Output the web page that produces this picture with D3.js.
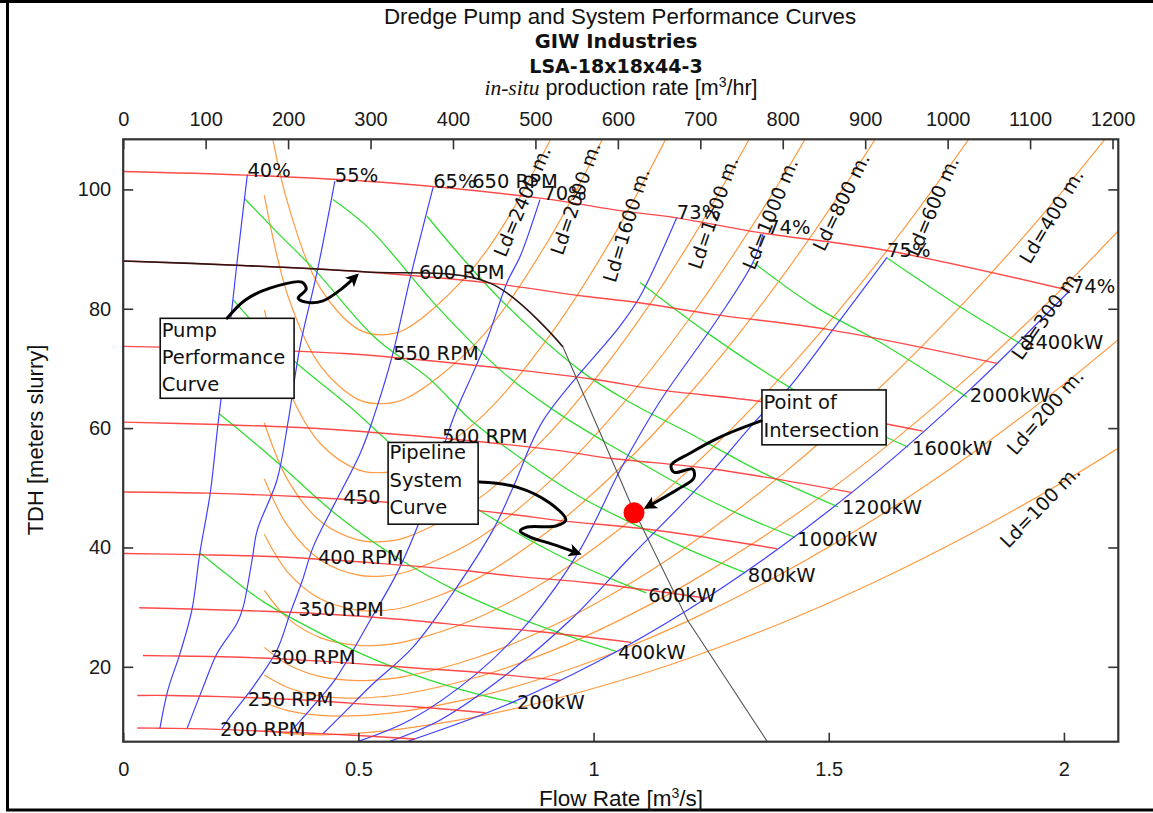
<!DOCTYPE html>
<html>
<head>
<meta charset="utf-8">
<script src="https://cdn.jsdelivr.net/npm/d3@7"></script>
<style>
  html, body { margin: 0; padding: 0; background: #fff; }
  svg { display: block; }
</style>
</head>
<body>
<svg id="chart" width="1153" height="813"></svg>
<script>
// ---------------- data ----------------
const flowTicks = [0, 0.5, 1, 1.5, 2];                       // m3/s
const headTicks = [20, 40, 60, 80, 100];                     // m slurry
const productionTicks = [0, 100, 200, 300, 400, 500, 600, 700, 800, 900, 1000, 1100, 1200]; // m3/hr

// Pump head curves, [flow m3/s, head m] per speed
const pumpSpeeds = ["650 RPM", "600 RPM", "550 RPM", "500 RPM", "450 RPM", "400 RPM", "350 RPM", "300 RPM", "250 RPM", "200 RPM"];
const speedLabels = ["650 RPM", "600 RPM", "550 RPM", "500 RPM", "450", "400 RPM", "350 RPM", "300 RPM", "250 RPM", "200 RPM"];
const pump650 = [[0,103.0],[0.26,102.4],[0.55,101.2],[0.89,98.5],[1.06,96.4],[1.18,95.2],[1.35,92.8],[1.62,89.8],[2.01,83.1]];
const pump600 = [[0,88.0],[0.24,87.3],[0.51,86.2],[0.78,84.3],[0.98,82.1],[1.09,81.1],[1.25,79.1],[1.50,76.5],[1.86,70.8]];
const pump550 = [[0,73.7],[0.22,73.3],[0.47,72.5],[0.75,70.5],[1.00,68.2],[1.14,66.4],[1.37,64.3],[1.70,59.5]];
const pump500 = [[0,61.0],[0.20,60.6],[0.42,59.9],[0.68,58.3],[0.91,56.4],[1.04,54.9],[1.25,53.2],[1.55,49.2]];
const pump450 = [[0,49.3],[0.18,49.1],[0.38,48.5],[0.62,47.2],[0.82,45.6],[0.93,44.5],[1.12,43.0],[1.39,39.8]];
const pump400 = [[0,39.0],[0.16,38.8],[0.34,38.4],[0.55,37.3],[0.73,36.1],[0.83,35.2],[1.00,34.0],[1.24,31.5]];
const pump350 = [[0.034,29.9],[0.14,29.7],[0.30,29.3],[0.48,28.6],[0.64,27.6],[0.73,26.9],[0.87,26.0],[1.08,24.1]];
const pump300 = [[0.042,21.9],[0.12,21.8],[0.25,21.6],[0.41,21.0],[0.54,20.3],[0.62,19.8],[0.75,19.1],[0.93,17.7]];
const pump250 = [[0.03,15.2],[0.10,15.2],[0.21,15.0],[0.34,14.6],[0.45,14.1],[0.52,13.7],[0.62,13.3],[0.77,12.3]];
const pump200 = [[0.03,9.75],[0.08,9.7],[0.17,9.6],[0.27,9.3],[0.36,9.0],[0.42,8.8],[0.50,8.5],[0.62,7.9]];
const pumpCurves = [pump650, pump600, pump550, pump500, pump450, pump400, pump350, pump300, pump250, pump200];

// Iso-efficiency curves
const efficiencyLevels = ["40%", "55%", "65%", "70%", "73%", "74%", "75%", "74%"];
const eff40 = [[0.264,102.5],[0.242,87.8],[0.227,77.1],[0.202,61.0],[0.185,49.1],[0.163,39.1],[0.146,29.5],[0.121,22.3],[0.095,16.1],[0.078,9.7]];
const eff55 = [[0.450,101.4],[0.412,86.1],[0.376,73.7],[0.351,61.3],[0.327,51.3],[0.285,42.9],[0.274,37.9],[0.255,30.0],[0.242,27.3],[0.200,22.3],[0.170,16.6],[0.136,9.7]];
const eff65 = [[0.659,100.4],[0.610,85.1],[0.572,72.1],[0.531,61.5],[0.504,55.8],[0.446,46.8],[0.404,40.1],[0.381,34.5],[0.355,29.0],[0.327,22.8],[0.276,16.6],[0.227,11.6],[0.210,9.6]];
const eff70 = [[0.886,98.3],[0.844,88.8],[0.816,84.4],[0.774,74.9],[0.744,69.3],[0.701,61.5],[0.631,44.6],[0.582,35.7],[0.525,27.8],[0.450,17.8],[0.397,12.8],[0.355,9.1]];
const eff73 = [[1.177,95.3],[1.099,82.1],[1.056,77.1],[0.893,61.3],[0.829,50.1],[0.786,42.9],[0.695,31.7],[0.616,23.3],[0.525,16.7],[0.472,12.5],[0.425,8.8]];
const eff74 = [[1.360,92.5],[1.339,87.8],[1.263,78.2],[1.148,65.3],[1.105,59.8],[1.056,52.9],[0.971,39.6],[0.865,27.8],[0.752,18.9],[0.610,11.1],[0.499,7.5]];
const eff75 = [[1.624,88.6],[1.524,78.1],[1.411,66.4],[1.354,62.0],[1.226,50.4],[1.078,38.4],[0.950,27.8],[0.808,18.3],[0.674,11.1],[0.567,7.5]];
const eff74r = [[2.013,83.1],[1.80,66.45],[1.60,52.5],[1.40,40.2],[1.20,29.53],[1.00,20.51],[0.80,13.13],[0.605,7.51]];
const efficiencyCurves = [eff40, eff55, eff65, eff70, eff73, eff74, eff75, eff74r];

// Iso-power curves
const powerLevels = ["200kW", "400kW", "600kW", "800kW", "1000kW", "1200kW", "1600kW", "2000kW", "2400kW"];
const kw200 = [[0.163,39.1],[0.22,35.5],[0.30,30.8],[0.40,26.4],[0.52,21.7],[0.65,17.8],[0.75,15.5],[0.837,13.9]];
const kw400 = [[0.204,62.4],[0.26,58.8],[0.34,53.4],[0.45,45.7],[0.58,38.4],[0.72,32.3],[0.86,27.6],[0.96,24.8],[1.048,22.6]];
const kw600 = [[0.234,81.5],[0.29,76.6],[0.37,70.8],[0.48,63.7],[0.62,53.9],[0.77,45.6],[0.92,38.9],[1.03,35.0],[1.112,32.4]];
const kw800 = [[0.259,98.4],[0.33,92.6],[0.412,86.1],[0.535,75.2],[0.652,68.2],[0.737,61.5],[0.85,54.7],[0.971,48.5],[1.099,43.4],[1.21,39.4],[1.322,35.8]];
const kw1000 = [[0.446,98.3],[0.525,93.3],[0.667,80.4],[0.808,69.3],[0.923,62.6],[1.05,56.5],[1.20,49.8],[1.32,45.2],[1.428,41.7]];
const kw1200 = [[0.646,95.5],[0.72,88.6],[0.808,81.1],[0.978,69.3],[1.078,64.3],[1.20,59.3],[1.36,52.5],[1.52,46.8]];
const kw1600 = [[1.099,84.4],[1.25,75.5],[1.424,66.5],[1.55,61.2],[1.669,56.8]];
const kw2000 = [[1.339,87.8],[1.47,80.4],[1.609,74.4],[1.794,65.2]];
const kw2400 = [[1.624,88.5],[1.77,80.8],[1.913,73.9]];
const powerCurves = [kw200, kw400, kw600, kw800, kw1000, kw1200, kw1600, kw2000, kw2400];

// Pipeline system curves: head at each flow, one row per discharge length
const pipeLengths = ["Ld=2400 m.", "Ld=2000 m.", "Ld=1600 m.", "Ld=1200 m.", "Ld=1000 m.", "Ld=800 m.", "Ld=600 m.", "Ld=400 m.", "Ld=300 m.", "Ld=200 m.", "Ld=100 m."];
const systemFlows = [0.30, 0.35, 0.42, 0.50, 0.55, 0.60, 0.75, 0.90, 1.05, 1.20, 1.40, 1.60, 1.80, 2.00, 2.15];
const sys2400 = [116.07, 97.63, 83.33, 76.55, 75.64, 76.56, 87.41, 107.07, 133.6];
const sys2000 = [99.0, 82.18, 70.34, 64.78, 64.09, 64.93, 74.23, 90.93, 113.4];
const sys1600 = [79.8, 66.73, 57.34, 53.01, 52.53, 53.30, 61.05, 74.79, 93.22, 115.68];
const sys1200 = [60.9, 51.29, 44.35, 41.24, 40.98, 41.66, 47.87, 58.65, 73.03, 90.53, 118.3];
const sys1000 = [51.5, 43.56, 37.85, 35.35, 35.21, 35.85, 41.28, 50.58, 62.94, 77.95, 101.79, 129.8];
const sys800  = [42.2, 35.84, 31.35, 29.47, 29.43, 30.03, 34.69, 42.51, 52.85, 65.38, 85.25, 108.57, 135.2];
const sys600  = [32.8, 28.11, 24.85, 23.58, 23.66, 24.22, 28.10, 34.44, 42.76, 52.80, 68.70, 87.35, 108.67, 132.6];
const sys400  = [23.26, 20.39, 18.35, 17.69, 17.88, 18.40, 21.51, 26.37, 32.66, 40.23, 52.16, 66.13, 82.08, 99.98, 114.68];
const sys300  = [18.61, 16.53, 15.10, 14.75, 14.99, 15.49, 18.21, 22.33, 27.61, 33.94, 43.89, 55.52, 68.79, 83.68, 95.90];
const sys200  = [13.97, 12.67, 11.85, 11.81, 12.10, 12.58, 14.92, 18.30, 22.57, 27.65, 35.62, 44.91, 55.50, 67.37, 77.12];
const sys100  = [9.33, 8.80, 8.61, 8.87, 9.22, 9.68, 11.62, 14.27, 17.53, 21.36, 27.34, 34.30, 42.21, 51.07, 58.33];
const systemHeads = [sys2400, sys2000, sys1600, sys1200, sys1000, sys800, sys600, sys400, sys300, sys200, sys100];

// Drive limit line (follows 600 RPM, then drops)
const limitLine = [[0,88.0],[0.24,87.3],[0.51,86.2],[0.78,84.3],[0.935,73.6],[1.008,60.3],[1.078,47.5],[1.20,27.8],[1.37,7.4]];
const limitSplit = 5; // points drawn heavy

// Operating point
const operatingPoint = [1.086, 45.8];

// Label anchors in chart units [flow, head]
const speedLabelAt = [[0.742,100.2],[0.629,84.95],[0.574,71.4],[0.678,57.5],[0.468,47.3],[0.414,37.2],[0.372,28.5],[0.312,20.4],[0.265,13.4],[0.206,8.4]];
const effLabelAt = [[0.264,102.0],[0.450,101.2],[0.659,100.2],[0.893,98.2],[1.177,95.0],[1.369,92.5],[1.624,88.6],[2.017,82.6]];
const powerLabelAt = [[0.837,12.9],[1.052,21.3],[1.116,30.8],[1.328,34.2],[1.433,40.2],[1.528,45.6],[1.677,55.5],[1.800,64.4],[1.913,73.2]];
const pipeLabelAt = [[0.848,98.0],[0.961,98.5],[1.069,94.0],[1.254,96.1],[1.375,95.9],[1.526,97.9],[1.720,97.2],[1.973,95.5],[1.962,79.1],[1.960,62.7],[1.949,46.9]];
const pipeLabelAngle = [-67, -71, -73, -71, -68, -64, -67, -59, -55, -49, -46];

// Callouts: box corners [flow, head] (top-left, bottom-right), lines, arrow path
const callouts = [
  { lines: ["Pump", "Performance", "Curve"], box: [[0.0787,78.4],[0.3633,65.0]], base: [19, 46, 73],
    arrow: [[0.221,78.43],[0.259,81.44],[0.312,83.45],[0.380,84.45],[0.389,83.28],[0.372,81.78],[0.389,81.11],[0.423,81.27],[0.461,83.12],[0.495,85.46]] },
  { lines: ["Pipeline", "System", "Curve"], box: [[0.5632,57.6],[0.7546,43.9]], base: [17, 45, 72],
    arrow: [[0.757,50.95],[0.837,50.12],[0.907,47.44],[0.941,44.59],[0.920,43.59],[0.859,43.42],[0.844,42.75],[0.865,41.74],[0.912,40.57],[0.967,39.06]] },
  { lines: ["Point of", "Intersection"], box: [[1.358,66.4],[1.622,57.2]], base: [19, 47],
    arrow: [[1.356,61.2],[1.269,58.5],[1.205,55.8],[1.165,53.8],[1.171,52.6],[1.211,53.1],[1.213,51.6],[1.180,49.8],[1.114,46.8]] }
];

// ---------------- layout ----------------
const plot = { left: 123.2, right: 1118.3, top: 139.3, bottom: 741.7 };
const svg = d3.select("#chart");

const x = d3.scaleLinear().domain([0, 2.1156]).range([plot.left, plot.right]);
const xTop = d3.scaleLinear().domain([0, 1207]).range([plot.left, plot.right]);
const y = d3.scaleLinear().domain([7.45, 108.4]).range([plot.bottom, plot.top]);

const defs = svg.append("defs");
defs.append("clipPath").attr("id", "plotClip").append("rect")
  .attr("x", plot.left).attr("y", plot.top)
  .attr("width", plot.right - plot.left).attr("height", plot.bottom - plot.top);
defs.append("marker").attr("id", "arrowHead")
  .attr("viewBox", "0 0 10 10").attr("refX", 7).attr("refY", 5)
  .attr("markerUnits", "userSpaceOnUse").attr("markerWidth", 17).attr("markerHeight", 13)
  .attr("orient", "auto")
  .append("path").attr("d", "M0,0 L10,5 L0,10 L2.5,5 z").attr("fill", "#000");

// outer figure border
svg.append("path").attr("d", "M0,1.5 H1153").attr("stroke", "#000").attr("stroke-width", 3);
svg.append("path").attr("d", "M7.5,0 V810 H1153").attr("stroke", "#000").attr("stroke-width", 3).attr("fill", "none");

const smooth = d3.line().x(d => x(d[0])).y(d => y(d[1])).curve(d3.curveCatmullRom.alpha(0.5));
const straight = d3.line().x(d => x(d[0])).y(d => y(d[1]));

const curves = svg.append("g").attr("clip-path", "url(#plotClip)");

// system curves (orange)
systemHeads.forEach(row => {
  const pts = row.map((h, i) => [systemFlows[i], h]);
  curves.append("path").attr("d", smooth(pts))
    .attr("fill", "none").attr("stroke", "#ff9a40").attr("stroke-width", 1.2);
});

// power curves (green)
powerCurves.forEach(c => {
  curves.append("path").attr("d", smooth(c))
    .attr("fill", "none").attr("stroke", "#33dd33").attr("stroke-width", 1.3);
});

// efficiency curves (blue)
efficiencyCurves.forEach(c => {
  curves.append("path").attr("d", smooth(c))
    .attr("fill", "none").attr("stroke", "#4040ff").attr("stroke-width", 1.2);
});

// pump curves (red)
pumpCurves.forEach(c => {
  curves.append("path").attr("d", smooth(c))
    .attr("fill", "none").attr("stroke", "#ff2a2a").attr("stroke-opacity", 0.85).attr("stroke-width", 1.4);
});

// drive limit
curves.append("path").attr("d", smooth(limitLine.slice(0, limitSplit)))
  .attr("fill", "none").attr("stroke", "#2a1414").attr("stroke-width", 1.6);
curves.append("path").attr("d", straight(limitLine.slice(limitSplit - 1)))
  .attr("fill", "none").attr("stroke", "#555").attr("stroke-width", 1.1);

// ---------------- in-plot labels ----------------
const labelFont = "'DejaVu Sans', sans-serif";
const labels = svg.append("g").attr("font-family", labelFont).attr("font-size", 19.5).attr("fill", "#111");

speedLabels.forEach((t, i) => {
  labels.append("text").attr("x", x(speedLabelAt[i][0])).attr("y", y(speedLabelAt[i][1])).text(t);
});
efficiencyLevels.forEach((t, i) => {
  labels.append("text").attr("x", x(effLabelAt[i][0])).attr("y", y(effLabelAt[i][1])).text(t);
});
powerLevels.forEach((t, i) => {
  labels.append("text").attr("x", x(powerLabelAt[i][0])).attr("y", y(powerLabelAt[i][1])).text(t);
});
pipeLengths.forEach((t, i) => {
  labels.append("text")
    .attr("transform", `translate(${x(pipeLabelAt[i][0])},${y(pipeLabelAt[i][1])}) rotate(${pipeLabelAngle[i]})`)
    .attr("text-anchor", "middle").attr("dominant-baseline", "central")
    .attr("font-size", 19).text(t);
});

// ---------------- axes ----------------
const tickFont = "'Liberation Sans', Arial, sans-serif";
function styleAxis(g) {
  g.attr("font-family", null).attr("font-size", null);
  g.select(".domain").remove();
  g.selectAll(".tick line").attr("stroke", "#333").attr("stroke-width", 1.6);
  g.selectAll(".tick text").attr("font-family", tickFont).attr("font-size", 20).attr("fill", "#1a1a1a");
}
svg.append("g").attr("transform", `translate(${plot.left},0)`)
  .call(d3.axisLeft(y).tickValues(headTicks).tickSize(-10).tickPadding(12).tickFormat(d3.format("d")))
  .call(styleAxis);
svg.append("g").attr("transform", `translate(${plot.right},0)`)
  .call(d3.axisRight(y).tickValues(headTicks).tickSize(-10).tickFormat(""))
  .call(styleAxis);
svg.append("g").attr("transform", `translate(0,${plot.bottom})`)
  .call(d3.axisBottom(x).tickValues(flowTicks).tickSize(-9).tickPadding(20).tickFormat(d => String(d)))
  .call(styleAxis);
svg.append("g").attr("transform", `translate(0,${plot.top})`)
  .call(d3.axisTop(xTop).tickValues(productionTicks).tickSize(-10).tickPadding(13).tickFormat(d3.format("d")))
  .call(styleAxis);

// plot frame
svg.append("rect").attr("x", plot.left).attr("y", plot.top)
  .attr("width", plot.right - plot.left).attr("height", plot.bottom - plot.top)
  .attr("fill", "none").attr("stroke", "#333").attr("stroke-width", 2.2);

// ---------------- titles ----------------
const cx = 620;
svg.append("text").attr("x", cx).attr("y", 24).attr("text-anchor", "middle")
  .attr("font-family", tickFont).attr("font-size", 22.3).attr("fill", "#111")
  .text("Dredge Pump and System Performance Curves");
svg.append("text").attr("x", cx - 4).attr("y", 48).attr("text-anchor", "middle")
  .attr("font-family", "'DejaVu Sans', sans-serif").attr("font-weight", "bold").attr("font-size", 19.5).attr("fill", "#111")
  .text("GIW Industries");
svg.append("text").attr("x", cx - 4).attr("y", 72.5).attr("text-anchor", "middle")
  .attr("font-family", "'DejaVu Sans', sans-serif").attr("font-weight", "bold").attr("font-size", 19).attr("fill", "#111")
  .text("LSA-18x18x44-3");
const sub = svg.append("text").attr("x", cx + 1).attr("y", 95).attr("text-anchor", "middle")
  .attr("font-family", tickFont).attr("font-size", 21.5).attr("fill", "#111");
sub.append("tspan").attr("font-family", "'Liberation Serif', serif").attr("font-style", "italic").text("in-situ");
sub.append("tspan").text(" production rate [m");
sub.append("tspan").attr("baseline-shift", "super").attr("font-size", 14).text("3");
sub.append("tspan").text("/hr]");

const xl = svg.append("text").attr("x", cx + 1).attr("y", 806).attr("text-anchor", "middle")
  .attr("font-family", tickFont).attr("font-size", 22.5).attr("fill", "#111");
xl.append("tspan").text("Flow Rate [m");
xl.append("tspan").attr("baseline-shift", "super").attr("font-size", 14).text("3");
xl.append("tspan").text("/s]");

svg.append("text").attr("transform", "translate(43,440) rotate(-90)").attr("text-anchor", "middle")
  .attr("font-family", tickFont).attr("font-size", 22).attr("fill", "#111")
  .text("TDH [meters slurry]");

// ---------------- callouts ----------------
const notes = svg.append("g");
callouts.forEach(c => {
  const x0 = x(c.box[0][0]), y0 = y(c.box[0][1]);
  const x1 = x(c.box[1][0]), y1 = y(c.box[1][1]);
  notes.append("rect").attr("x", x0).attr("y", y0).attr("width", x1 - x0).attr("height", y1 - y0)
    .attr("fill", "#fff").attr("stroke", "#111").attr("stroke-width", 1.6);
  c.lines.forEach((t, i) => {
    notes.append("text").attr("x", x0 + 1.5).attr("y", y0 + c.base[i])
      .attr("font-family", labelFont).attr("font-size", 19.5).attr("fill", "#111").text(t);
  });
  notes.append("path").attr("d", smooth(c.arrow))
    .attr("fill", "none").attr("stroke", "#000").attr("stroke-width", 3)
    .attr("stroke-linecap", "round").attr("marker-end", "url(#arrowHead)");
});

// operating point
svg.append("circle").attr("cx", x(operatingPoint[0])).attr("cy", y(operatingPoint[1])).attr("r", 10.5)
  .attr("fill", "#ff0000");
</script>
</body>
</html>
